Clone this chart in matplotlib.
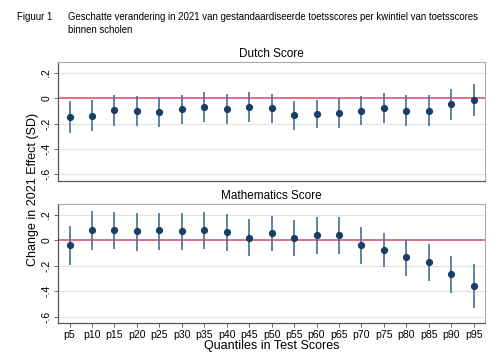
import matplotlib
matplotlib.use('Agg')
import matplotlib.pyplot as plt
import numpy as np

kwantielen = ['p5', 'p10', 'p15', 'p20', 'p25', 'p30', 'p35', 'p40', 'p45', 'p50',
              'p55', 'p60', 'p65', 'p70', 'p75', 'p80', 'p85', 'p90', 'p95']

# Dutch: punt, ondergrens, bovengrens
dutch_est = [-0.152, -0.141, -0.096, -0.102, -0.107, -0.089, -0.073, -0.086, -0.073, -0.081,
             -0.136, -0.123, -0.117, -0.099, -0.081, -0.099, -0.099, -0.047, -0.013]
dutch_lo = [-0.274, -0.261, -0.219, -0.219, -0.225, -0.201, -0.185, -0.201, -0.185, -0.196,
            -0.251, -0.235, -0.235, -0.214, -0.196, -0.219, -0.219, -0.172, -0.144]
dutch_hi = [-0.026, -0.018, 0.026, 0.013, 0.008, 0.026, 0.045, 0.034, 0.045, 0.034,
            -0.026, -0.018, 0.000, 0.013, 0.039, 0.021, 0.021, 0.071, 0.113]

# Mathematics
math_est = [-0.039, 0.076, 0.076, 0.070, 0.076, 0.070, 0.078, 0.062, 0.021, 0.055,
            0.018, 0.042, 0.042, -0.039, -0.078, -0.133, -0.169, -0.266, -0.359]
math_lo = [-0.190, -0.078, -0.070, -0.081, -0.073, -0.073, -0.068, -0.083, -0.125, -0.081,
           -0.120, -0.104, -0.104, -0.182, -0.213, -0.276, -0.315, -0.414, -0.529]
math_hi = [0.109, 0.229, 0.221, 0.216, 0.216, 0.216, 0.224, 0.206, 0.167, 0.193,
           0.159, 0.182, 0.182, 0.101, 0.060, 0.005, -0.029, -0.120, -0.188]

y_ticks = [-0.6, -0.4, -0.2, 0, 0.2]
y_labels = ['-.6', '-.4', '-.2', '0', '.2']

plt.rcParams['font.family'] = ['Liberation Sans', 'DejaVu Sans']

fig = plt.figure(figsize=(5.03, 3.63), dpi=100)
ax1 = fig.add_axes([0.116, 0.502, 0.848, 0.326])
ax2 = fig.add_axes([0.116, 0.109, 0.848, 0.328])

x = np.arange(1, len(kwantielen) + 1)


def paneel(ax, est, lo, hi, titel, onder):
    est = np.array(est)
    ax.vlines(x, lo, hi, color='#55789a', linewidth=1.3, zorder=3)
    ax.plot(x, est, 'o', color='#1a3f66', markersize=4.2, zorder=4)
    ax.axhline(0, color='#d9486e', linewidth=1.1, zorder=2)
    for t in y_ticks:
        if t != 0:
            ax.axhline(t, color='#e3e3e3', linewidth=0.9, zorder=1)
    ax.set_xlim(0.5, len(kwantielen) + 0.5)
    ax.set_ylim(-0.65, 0.28)
    ax.set_yticks(y_ticks)
    ax.set_yticklabels(y_labels, rotation=90, va='center', fontsize=7.5)
    ax.tick_params(axis='y', length=3, width=0.6, color='#555555', pad=2)
    for s in ['top', 'right']:
        ax.spines[s].set_color('#aaaaaa')
        ax.spines[s].set_linewidth(0.8)
    for s in ['left', 'bottom']:
        ax.spines[s].set_color('#555555')
        ax.spines[s].set_linewidth(0.9)
    ax.set_title(titel, fontsize=8.5, pad=4)
    if onder:
        ax.set_xticks(x)
        ax.set_xticklabels(kwantielen, fontsize=7.6)
        ax.tick_params(axis='x', length=3, width=0.6, color='#555555', pad=2)
    else:
        ax.set_xticks([])


paneel(ax1, dutch_est, dutch_lo, dutch_hi, 'Dutch Score', False)
paneel(ax2, math_est, math_lo, math_hi, 'Mathematics Score', True)

ax2.set_xlabel('Quantiles in Test Scores', fontsize=9, labelpad=0)
fig.text(0.065, 0.477, 'Change in 2021 Effect (SD)', rotation=90, ha='center', va='center', fontsize=9)

fig.text(0.034, 0.953, 'Figuur 1', fontsize=6.9, va='center')
fig.text(0.135, 0.953, 'Geschatte verandering in 2021 van gestandaardiseerde toetsscores per kwintiel van toetsscores',
         fontsize=6.9, va='center')
fig.text(0.135, 0.917, 'binnen scholen', fontsize=6.9, va='center')

plt.savefig('out.png', dpi=100)
plt.close()
